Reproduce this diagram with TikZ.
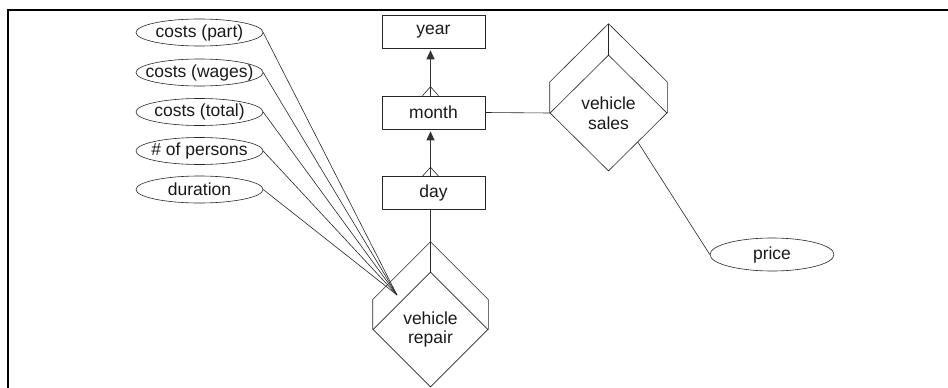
\documentclass[tikz,border=0pt]{standalone}
\usepackage{fontspec}
\setmainfont{Liberation Sans}
\usetikzlibrary{shapes.geometric,arrows.meta,calc}
\begin{document}
\begin{tikzpicture}[x=1pt,y=-1pt,
  every node/.style={font=\fontsize{17.5}{19.5}\selectfont, text=black!90},
  line/.style={draw=black!85, line width=0.6pt},
  entbox/.style={draw=black!85, line width=0.6pt, minimum width=103pt, minimum height=33pt, inner sep=0pt},
  attr/.style={minimum width=127pt, minimum height=27pt, inner sep=0pt},
  rel/.style={diamond, draw=black!85, line width=0.6pt, inner sep=0pt, align=center},
  conn/.style={draw=black!80, line width=1pt},
  tip/.style={-{Triangle[width=8pt,length=9pt]}, shorten >=2pt}
]
\useasboundingbox (0,0) rectangle (948,388);
% frame
\draw[line width=1.2pt] (948,10) -- (8,10) -- (8,388);

% entities
\node[entbox] (year)  at (433.5,31.5) {year};
\node[entbox] (month) at (433.5,112.5) {month};
\node[entbox] (day)   at (433.5,193) {day};

% relationships (front faces)
\node[rel, minimum width=117pt, minimum height=116pt] (vs) at (608.5,113) {\rule{0pt}{6pt}vehicle\\sales};
\node[rel, minimum width=115pt, minimum height=115pt] (vr) at (430.5,329.5) {\rule{0pt}{6pt}vehicle\\repair};

% back faces of vehicle sales
\draw[line] (vs.west) -- ($(vs.west)+(0,-31)$) -- ($(vs.north)+(0,-31)$) coordinate (vsbt)
  -- ($(vs.east)+(0,-31)$) -- (vs.east);
\draw[line] (vsbt) -- (vs.north);
% back faces of vehicle repair
\draw[line] (vr.west) -- ($(vr.west)+(0,-30)$) -- ($(vr.north)+(0,-30)$) coordinate (vrbt)
  -- ($(vr.east)+(0,-30)$) -- (vr.east);
\draw[line] (vrbt) -- (vr.north);

% attributes
\foreach \n/\y/\t in {a1/32.5/costs (part), a2/72.5/costs (wages), a3/112/costs (total), a4/151/\# of persons, a5/189.5/duration}{
  \node[attr] (\n) at (199.5,\y) {\t};
  \draw[line] (\n.center) ellipse [x radius=63.5pt, y radius=13.5pt];
}
\node[minimum width=124pt, minimum height=33pt, inner sep=0pt] (price) at (772,254.5) {price};
\draw[line] (price.center) ellipse [x radius=62pt, y radius=16.5pt];

% connectors
\coordinate (conv) at (397,295);
\foreach \n in {a1,a2,a3,a4,a5}{
  \draw[line] (\n.east) -- (conv);
}
\draw[line] (month.east) -- (vs.west);
\coordinate (vsp) at ($(vs.east)!0.5!(vs.south)$);
\draw[line] (vsp) -- (price.west);
\draw[conn] (day.south -| vr.north) -- (vrbt);

% month -> year
\draw[conn, tip] (month.north -| vr.north) -- (year.south -| vr.north);
\draw[line] ($(month.north -| vr.north)+(-8,0)$) -- ++(8,-9) -- ++(8,9);
% day -> month
\draw[conn, tip] (day.north -| vr.north) -- (month.south -| vr.north);
\draw[line] ($(day.north -| vr.north)+(-8,0)$) -- ++(8,-9) -- ++(8,9);
\end{tikzpicture}
\end{document}
